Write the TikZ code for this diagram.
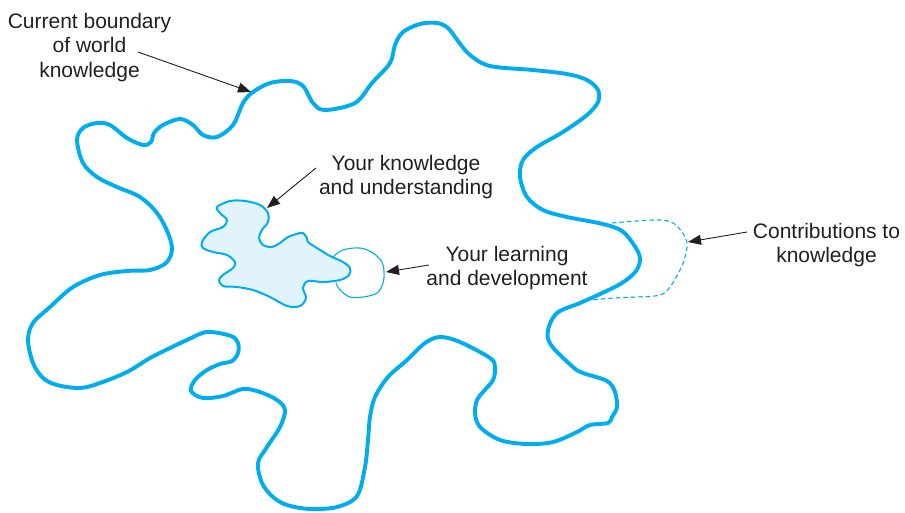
\documentclass[tikz,border=0pt]{standalone}
\usepackage{fontspec}
\setmainfont{Liberation Sans}
\usetikzlibrary{arrows.meta}
\definecolor{kblue}{HTML}{00AEEF}
\definecolor{kfill}{HTML}{E1F4FB}
\definecolor{ktext}{HTML}{231F20}
\begin{document}
\begin{tikzpicture}[x=1pt,y=-1pt,
  txt/.style={anchor=base,inner sep=0pt,text=ktext,font=\fontsize{21}{24.5}\selectfont},
  arr/.style={draw=ktext,line width=0.9pt,-{Triangle[length=13pt,width=10pt]}},
  bigline/.style={draw=kblue,line width=3.9pt,line join=round},
  ownline/.style={draw=kblue,line width=2pt,fill=kfill,line join=round},
  learnline/.style={draw=kblue,line width=1.1pt},
  contribline/.style={draw=kblue,line width=1.1pt,dash pattern=on 4.5pt off 3pt}]
\useasboundingbox (0,0) rectangle (905,512);

% current boundary of world knowledge
\draw[bigline] plot[smooth cycle,tension=0.55] coordinates {
 (243,103) (253,92) (270,83) (290,81) (303,86) (313,103) (325,110) (355,103)
 (372,83) (390,63) (395,45) (403,32) (420,24) (437,23) (448,28) (458,41) (470,55)
 (490,66) (533,70) (567,74) (587,80) (598,90) (598,102) (587,115) (563,132)
 (537,147) (523,160) (520,177) (527,197) (543,210) (567,217) (603,224)
 (622,231) (634,245) (640,258) (636,271) (622,283) (600,294) (580,303)
 (557,313) (548,330) (551,345) (573,367) (583,373) (607,381) (615,392)
 (617,407) (612,417) (608,423) (590,425) (577,432) (553,442) (527,444)
 (500,440) (480,427) (475,413) (477,400) (483,392) (493,380) (495,367)
 (490,358) (460,342) (440,337) (425,343)
 (407,360) (388,377) (375,397) (370,417) (368,440) (365,467) (357,496)
 (337,507) (310,509) (287,505) (273,497) (262,483) (258,463) (267,447)
 (280,427) (285,410) (277,400) (260,392) (243,389) (223,396) (203,398)
 (191,391) (195,380) (207,370) (220,364) (232,361) (238,353)
 (238,343) (231,336) (207,332) (187,340) (170,348) (150,358) (127,372)
 (100,383) (80,388) (57,385) (43,378) (33,363) (28,340) (33,323) (50,307)
 (73,287) (100,275) (127,271) (150,270) (166,263) (172,250) (168,233)
 (157,213) (140,197) (117,187) (97,177) (83,163) (77,140) (83,128) (97,123)
 (110,125) (127,138) (143,145) (151,142) (154,133) (163,125) (180,119)
 (193,125) (203,135) (217,137) (233,125)};

% contributions to knowledge (dashed)
\draw[contribline] plot[smooth,tension=0.6] coordinates {
 (612,223) (637,221) (660,220) (673,223) (682,232) (687,243) (685,257)
 (680,270) (670,287) (660,295) (637,297) (613,298) (592,300)};

% your learning and development
\draw[learnline] plot[smooth,tension=0.6] coordinates {
 (333,257) (343,250) (360,248) (373,253) (382,262) (384,272) (383,283)
 (377,293) (363,297) (350,297) (340,290) (336,283)};

% your knowledge and understanding
\draw[ownline] plot[smooth cycle,tension=0.55] coordinates {
 (217,207) (230,201) (245,201) (260,205) (268,213) (268,222) (262,230)
 (259,238) (263,245) (272,247) (280,243) (288,237) (300,233) (303,233)
 (307,238) (308,242) (317,248) (330,256) (343,262) (350,268) (349,275)
 (340,280) (323,282) (308,281) (303,288) (306,298) (300,306) (287,306)
 (270,297) (253,290) (237,287) (223,286) (219,280) (223,275) (233,268)
 (235,262) (227,255) (213,252) (203,248) (202,242) (210,232) (223,227)
 (227,220) (220,213)};

% texts
\node[txt] (cb1) at (89.5,28) {Current boundary};
\node[txt] (cb2) at (89.5,52.5) {of world};
\node[txt] (cb3) at (89.5,77) {knowledge};
\node[txt] (yk1) at (406,170) {Your knowledge};
\node[txt] (yk2) at (406,194.5) {and understanding};
\node[txt] (yl1) at (507,261) {Your learning};
\node[txt] (yl2) at (507,285.5) {and development};
\node[txt] (ck1) at (826.5,238) {Contributions to};
\node[txt] (ck2) at (826.5,262.5) {knowledge};

% arrow ends
\coordinate (cbS) at (138,52);
\coordinate (cbT) at (251,92);
\coordinate (ykS) at (316,168);
\coordinate (ykT) at (267,208);
\coordinate (ylS) at (429,265);
\coordinate (ylT) at (386,272);
\coordinate (ckS) at (747,232);
\coordinate (ckT) at (688,242);

\draw[arr] (cbS) -- (cbT);
\draw[arr] (ykS) -- (ykT);
\draw[arr] (ylS) -- (ylT);
\draw[arr] (ckS) -- (ckT);
\end{tikzpicture}
\end{document}
